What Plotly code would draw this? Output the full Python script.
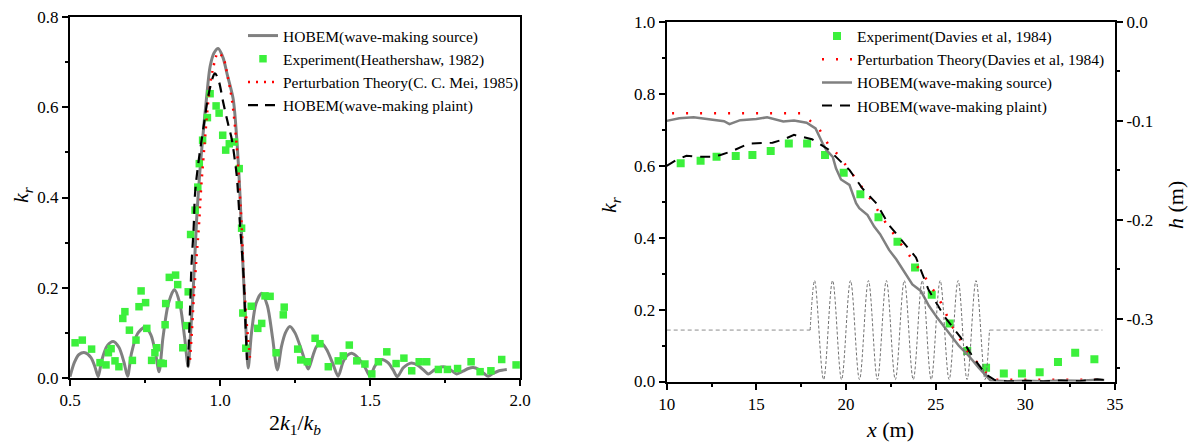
import plotly.graph_objects as go

W, H = 1190, 442

# ---------------- Left panel data ----------------
left_src_x = [0.5, 0.515, 0.53, 0.55, 0.57, 0.583, 0.594,
              0.606, 0.625, 0.644, 0.663, 0.68, 0.692,
              0.705, 0.725, 0.75, 0.77, 0.785, 0.797,
              0.81, 0.828, 0.848, 0.866, 0.882, 0.894,
              0.902, 0.911, 0.922, 0.932, 0.944, 0.955, 0.967, 0.98, 0.994,
              1.01, 1.025, 1.044, 1.056, 1.067, 1.073, 1.08, 1.087, 1.094,
              1.105, 1.12, 1.139, 1.158, 1.175, 1.191,
              1.205, 1.218, 1.233, 1.25, 1.275, 1.294,
              1.31, 1.322, 1.339, 1.358, 1.377, 1.394,
              1.41, 1.424, 1.439, 1.46, 1.482, 1.5,
              1.515, 1.527, 1.539, 1.56, 1.577, 1.591,
              1.61, 1.625, 1.639, 1.66, 1.678, 1.694,
              1.715, 1.73, 1.744, 1.76, 1.775, 1.789,
              1.81, 1.828, 1.844, 1.862, 1.88, 1.894,
              1.91, 1.93, 1.956]
left_src_k = [0.003, 0.035, 0.052, 0.056, 0.045, 0.025, 0.003,
              0.04, 0.072, 0.081, 0.068, 0.035, 0.004,
              0.055, 0.098, 0.113, 0.095, 0.055, 0.014,
              0.09, 0.165, 0.196, 0.165, 0.09, 0.025,
              0.10, 0.20, 0.35, 0.45, 0.544, 0.62, 0.69, 0.72, 0.73,
              0.71, 0.67, 0.618, 0.529, 0.40, 0.30, 0.20, 0.10, 0.022,
              0.10, 0.165, 0.188, 0.16, 0.09, 0.018,
              0.07, 0.10, 0.114, 0.10, 0.055, 0.02,
              0.05, 0.07, 0.077, 0.06, 0.03, 0.004,
              0.035, 0.05, 0.055, 0.045, 0.025, 0.004,
              0.025, 0.036, 0.041, 0.034, 0.018, 0.003,
              0.022, 0.03, 0.033, 0.028, 0.018, 0.009,
              0.018, 0.023, 0.025, 0.022, 0.015, 0.009,
              0.015, 0.021, 0.023, 0.019, 0.01, 0.004,
              0.01, 0.016, 0.019]

left_exp_x = [0.517, 0.541, 0.572, 0.60, 0.62, 0.628, 0.637, 0.65, 0.663, 0.676,
              0.683, 0.698, 0.708, 0.72, 0.73, 0.737, 0.752, 0.756, 0.772, 0.783,
              0.789, 0.803, 0.811, 0.817, 0.819, 0.831, 0.852, 0.859, 0.864, 0.876,
              0.889, 0.894, 0.902, 0.917, 0.926, 0.931, 0.942, 0.958, 0.967, 0.987,
              0.997, 1.009, 1.019, 1.031, 1.048, 1.064, 1.072, 1.076, 1.086, 1.104,
              1.126, 1.139, 1.15, 1.167, 1.187, 1.211, 1.214, 1.259, 1.269, 1.291,
              1.317, 1.333, 1.361, 1.394, 1.411, 1.431, 1.456, 1.483, 1.506, 1.528,
              1.556, 1.587, 1.613, 1.639, 1.664, 1.689, 1.728, 1.758, 1.792, 1.837,
              1.867, 1.903, 1.939, 1.987]
left_exp_k = [0.078, 0.084, 0.064, 0.034, 0.029, 0.056, 0.065, 0.038, 0.025, 0.132,
              0.147, 0.106, 0.039, 0.084, 0.158, 0.193, 0.167, 0.11, 0.039, 0.056,
              0.067, 0.033, 0.032, 0.118, 0.165, 0.223, 0.228, 0.207, 0.162, 0.067,
              0.116, 0.191, 0.318, 0.372, 0.423, 0.475, 0.527, 0.577, 0.63, 0.603,
              0.587, 0.538, 0.505, 0.519, 0.523, 0.464, 0.332, 0.144, 0.066, 0.159,
              0.11, 0.121, 0.182, 0.181, 0.056, 0.14, 0.157, 0.064, 0.04, 0.036,
              0.088, 0.076, 0.025, 0.038, 0.049, 0.073, 0.038, 0.031, 0.009, 0.036,
              0.058, 0.032, 0.044, 0.016, 0.036, 0.036, 0.019, 0.019, 0.021, 0.036,
              0.014, 0.016, 0.041, 0.029]

left_pt_x = [0.900, 0.906, 0.912, 0.922, 0.93, 0.937, 0.95, 0.962, 0.975, 0.994,
             1.01, 1.025, 1.04, 1.055, 1.065, 1.072, 1.078, 1.088, 1.1]
left_pt_k = [0.04, 0.10, 0.17, 0.27, 0.34, 0.42, 0.53, 0.62, 0.68, 0.72,
             0.71, 0.67, 0.615, 0.52, 0.42, 0.34, 0.24, 0.13, 0.045]

left_pl_x = [0.893, 0.9, 0.905, 0.912, 0.917, 0.928, 0.944, 0.961, 0.976, 0.983,
             0.995, 1.011, 1.028, 1.039, 1.05, 1.056, 1.067, 1.078, 1.085, 1.09]
left_pl_k = [0.025, 0.15, 0.25, 0.33, 0.41, 0.477, 0.551, 0.625, 0.666, 0.675,
             0.66, 0.61, 0.56, 0.53, 0.48, 0.447, 0.336, 0.232, 0.12, 0.04]

# ---------------- Right panel data ----------------
right_exp_x = [10.78, 11.89, 12.78, 13.85, 14.78, 15.8, 16.81, 17.83, 18.83, 19.87,
               20.8, 21.81, 22.87, 23.85, 24.78, 25.78, 26.76, 27.81, 28.8, 29.81,
               30.8, 31.82, 32.78, 33.85]
right_exp_k = [0.607, 0.614, 0.625, 0.627, 0.63, 0.641, 0.662, 0.662, 0.63, 0.581,
               0.521, 0.457, 0.389, 0.317, 0.241, 0.161, 0.085, 0.038, 0.022, 0.022,
               0.026, 0.054, 0.08, 0.062]

right_pt_x = [10.3, 17.5, 18.0, 18.5, 19.0, 19.6, 20.5, 21.4, 22.3, 23.3, 24.3,
              25.2, 25.85, 26.75, 27.8, 28.3, 34.5]
right_pt_k = [0.746, 0.746, 0.725, 0.703, 0.66, 0.628, 0.567, 0.505, 0.435, 0.366, 0.298,
              0.229, 0.159, 0.085, 0.025, 0.005, 0.005]

right_src_x = [10, 10.7, 11.5, 12.6, 13.2, 13.5, 14.1, 15.0, 15.6, 16.5, 17.1, 17.8,
               18.3, 18.7, 18.9, 19.26, 19.44, 19.72, 20.19, 20.56, 20.74, 21.2, 21.57,
               21.9, 22.4, 22.8, 23.33, 23.7, 24.17, 24.63, 25.09, 25.65, 26.3, 26.85,
               27.41, 28.06, 29, 30, 31, 32, 33, 34, 34.4]
right_src_k = [0.725, 0.732, 0.735, 0.729, 0.724, 0.716, 0.727, 0.73, 0.735, 0.723, 0.726, 0.72,
               0.704, 0.662, 0.644, 0.625, 0.593, 0.562, 0.547, 0.496, 0.482, 0.463, 0.431,
               0.41, 0.366, 0.34, 0.298, 0.27, 0.252, 0.21, 0.177, 0.14, 0.099, 0.071,
               0.038, 0.003, 0.001, 0.002, 0.001, 0.003, 0.002, 0.005, 0.004]

right_pl_x = [10, 10.5, 11.1, 11.7, 12.5, 13.0, 13.6, 14.6, 15.9, 16.6, 17.1, 17.6, 18.1,
              19.0, 19.6, 20.2, 20.9, 21.7, 22.4, 23.3, 23.9, 24.6, 25.5, 26.4, 27.1,
              27.8, 28.3, 29.0, 30, 31, 32, 33, 34, 34.5]
right_pl_k = [0.60, 0.615, 0.628, 0.625, 0.625, 0.63, 0.64, 0.662, 0.664, 0.675, 0.686, 0.681, 0.674,
              0.646, 0.618, 0.588, 0.538, 0.495, 0.435, 0.38, 0.345, 0.255, 0.18, 0.122, 0.066,
              0.02, 0.004, 0.0, 0.002, 0.0, 0.003, 0.001, 0.006, 0.004]

# bed profile h (m)
bed_flat_x = [10, 18, None, 28, 34.3]
bed_flat_h = [-0.3115, -0.3115, None, -0.3115, -0.3115]
ripple_x = [18, 18.25, 18.75, 19.25, 19.75, 20.25, 20.75, 21.25, 21.75, 22.25, 22.75,
            23.25, 23.75, 24.25, 24.75, 25.25, 25.75, 26.25, 26.75, 27.25, 27.75, 28]
ripple_h = [-0.3115, -0.2615, -0.3615, -0.2615, -0.3615, -0.2615, -0.3615, -0.2615, -0.3615,
            -0.2615, -0.3615, -0.2615, -0.3615, -0.2615, -0.3615, -0.2615, -0.3615, -0.2615,
            -0.3615, -0.2615, -0.3615, -0.3115]

h_ticks = [-0.3, -0.2, -0.1, 0.0]
h_ticktext = ["-0.3", "-0.2", "-0.1", "0.0"]

# ---------------- Styles ----------------
GRAY = "#808080"
GREEN = "#3cf03c"
FONT = "Times New Roman"

fig = go.Figure()

# Left panel traces
fig.add_trace(go.Scatter(x=left_src_x, y=left_src_k, mode="lines", name="HOBEM(wave-making source)",
                         line=dict(color=GRAY, width=3, shape="spline", smoothing=0.8),
                         xaxis="x", yaxis="y", legend="legend"))
fig.add_trace(go.Scatter(x=left_exp_x, y=left_exp_k, mode="markers", name="Experiment(Heathershaw, 1982)",
                         marker=dict(symbol="square", size=7.5, color=GREEN),
                         xaxis="x", yaxis="y", legend="legend"))
fig.add_trace(go.Scatter(x=left_pt_x, y=left_pt_k, mode="lines", name="Perturbation Theory(C. C. Mei, 1985)",
                         line=dict(color="#ff0000", width=2.5, dash="2px,6px", shape="spline"),
                         xaxis="x", yaxis="y", legend="legend"))
fig.add_trace(go.Scatter(x=left_pl_x, y=left_pl_k, mode="lines", name="HOBEM(wave-making plaint)",
                         line=dict(color="black", width=2.2, dash="10px,7px", shape="spline"),
                         xaxis="x", yaxis="y", legend="legend"))

# Right panel: bed profile on h axis
fig.add_trace(go.Scatter(x=bed_flat_x, y=bed_flat_h, mode="lines", showlegend=False,
                         line=dict(color="#8c8c8c", width=1, dash="4px,3px"),
                         xaxis="x2", yaxis="y3", hoverinfo="skip"))
fig.add_trace(go.Scatter(x=ripple_x, y=ripple_h, mode="lines", showlegend=False,
                         line=dict(color="#707070", width=1, dash="3px,2px", shape="spline", smoothing=1),
                         xaxis="x2", yaxis="y3", hoverinfo="skip"))

fig.add_trace(go.Scatter(x=right_exp_x, y=right_exp_k, mode="markers", name="Experiment(Davies et al, 1984)",
                         marker=dict(symbol="square", size=8, color=GREEN),
                         xaxis="x2", yaxis="y2", legend="legend2"))
fig.add_trace(go.Scatter(x=right_pt_x, y=right_pt_k, mode="lines", name="Perturbation Theory(Davies et al, 1984)",
                         line=dict(color="#ff0000", width=2.5, dash="2px,12px"),
                         xaxis="x2", yaxis="y2", legend="legend2"))
fig.add_trace(go.Scatter(x=right_src_x, y=right_src_k, mode="lines", name="HOBEM(wave-making source)",
                         line=dict(color=GRAY, width=2.5),
                         xaxis="x2", yaxis="y2", legend="legend2"))
fig.add_trace(go.Scatter(x=right_pl_x, y=right_pl_k, mode="lines", name="HOBEM(wave-making plaint)",
                         line=dict(color="black", width=2, dash="10px,8px"),
                         xaxis="x2", yaxis="y2", legend="legend2"))

tickfont = dict(family=FONT, size=17, color="black")
common = dict(showline=True, linecolor="black", linewidth=2, ticks="outside", ticklen=6,
              tickwidth=2, tickcolor="black", showgrid=False, zeroline=False, tickfont=tickfont,
              automargin=False)
minor = lambda d: dict(dtick=d, ticks="outside", ticklen=3, tickwidth=2, tickcolor="black", showgrid=False)

fig.update_layout(
    width=W, height=H, margin=dict(l=0, r=0, t=0, b=0, autoexpand=False),
    paper_bgcolor="white", plot_bgcolor="white",
    font=dict(family=FONT, color="black"),
    xaxis=dict(domain=[70 / W, 520 / W], range=[0.5, 2.0], anchor="y", dtick=0.5, tick0=0,
               tickformat=".1f", mirror=True, minor=minor(0.25), **common),
    yaxis=dict(domain=[1 - 378 / H, 1 - 17 / H], range=[0, 0.8], anchor="x", dtick=0.2, tick0=0,
               tickformat=".1f", mirror=True, minor=minor(0.1), **common),
    xaxis2=dict(domain=[666.7 / W, 1115 / W], range=[10, 35], anchor="y2", dtick=5, tick0=0,
                mirror=True, minor=minor(2.5), **common),
    yaxis2=dict(domain=[1 - 381.5 / H, 1 - 22 / H], range=[0, 1.0], anchor="x2", dtick=0.2, tick0=0,
                tickformat=".1f", minor=minor(0.1), **common),
    yaxis3=dict(overlaying="y2", side="right", anchor="x2", range=[-0.3635, 0],
                tickvals=h_ticks, ticktext=h_ticktext, minor=minor(0.05), **common),
    legend=dict(x=243 / W, xanchor="left", y=1 - 19 / H, yanchor="top",
                bgcolor="rgba(0,0,0,0)", font=dict(family=FONT, size=15.5, color="black")),
    legend2=dict(x=817 / W, xanchor="left", y=1 - 19.5 / H, yanchor="top",
                 bgcolor="rgba(0,0,0,0)", font=dict(family=FONT, size=15.5, color="black")),
    showlegend=True,
)

title_font = dict(family=FONT, size=22, color="black")
ann = [
    dict(x=22 / W, y=1 - 195 / H, text="<i>k<sub>r</sub></i>", textangle=-90),
    dict(x=295 / W, y=1 - 424 / H, text="2<i>k</i><sub>1</sub>/<i>k<sub>b</sub></i>", textangle=0),
    dict(x=610 / W, y=1 - 205 / H, text="<i>k<sub>r</sub></i>", textangle=-90),
    dict(x=890 / W, y=1 - 429 / H, text="<i>x</i> (m)", textangle=0),
    dict(x=1175 / W, y=1 - 205 / H, text="<i>h</i> (m)", textangle=-90),
]
for a in ann:
    fig.add_annotation(xref="paper", yref="paper", showarrow=False, xanchor="center",
                       yanchor="middle", font=title_font, **a)

# remove the default 8px page margin so the figure fills the window exactly
fig.write_html("out.html",
               config={"displayModeBar": False},
               post_script="document.documentElement.style.margin='0';"
                           "document.body.style.margin='0';"
                           "document.body.style.overflow='hidden';")
